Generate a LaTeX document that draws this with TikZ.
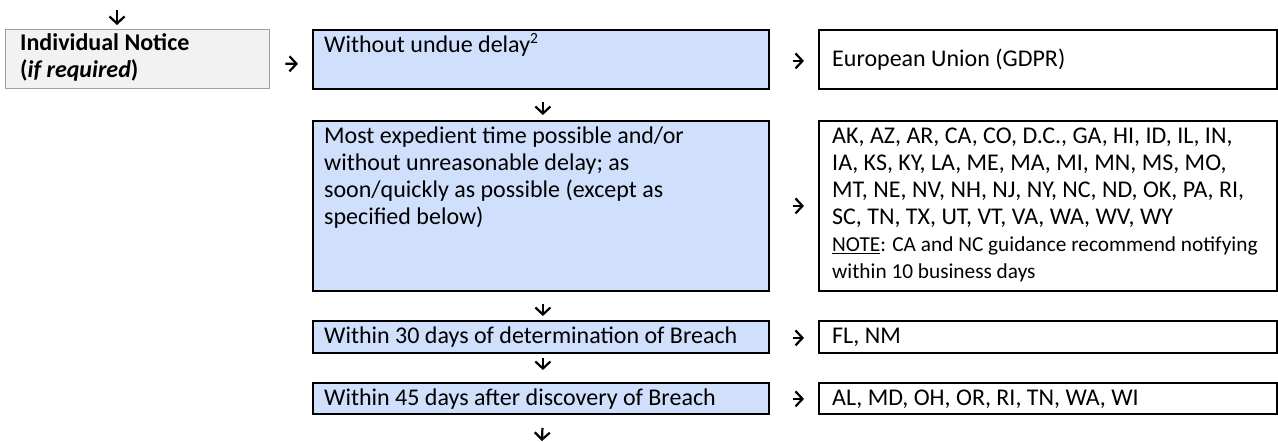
\documentclass[tikz,border=0pt]{standalone}
\usepackage{fontspec}
\setmainfont{Carlito}
\usetikzlibrary{arrows.meta}
\definecolor{boxblue}{RGB}{207,223,252}
\definecolor{boxgray}{RGB}{242,242,242}
\definecolor{edgegray}{RGB}{160,160,160}
\newcommand{\supnum}[1]{\raisebox{8.5pt}{\fontsize{15.5}{15.5}\selectfont #1}}
\tikzset{
  frame/.style={draw=black, line width=1.8pt, anchor=north west, inner sep=0pt},
  bluebox/.style={frame, fill=boxblue},
  whitebox/.style={frame, fill=white},
  graybox/.style={draw=edgegray, line width=1.4pt, fill=boxgray, anchor=north west, inner sep=0pt},
  txt/.style={inner sep=0pt, font=\fontsize{24}{27}\selectfont, align=left, anchor=base west},
  smalltxt/.style={txt, font=\fontsize{21.3}{27}\selectfont},
  arr/.style={line width=2.2pt, -{Straight Barb[length=7pt,width=15pt]}},
}
\begin{document}
\begin{tikzpicture}[x=1pt,y=-1pt]
\useasboundingbox (0,0) rectangle (1278,442);
% boxes
\node[graybox, minimum width=264pt, minimum height=59pt] (ind) at (5,29) {};
\node[bluebox, minimum width=456pt, minimum height=59pt] (b1) at (312,29) {};
\node[whitebox, minimum width=458pt, minimum height=59pt] (eu) at (818,29) {};
\node[bluebox, minimum width=456pt, minimum height=170pt] (b2) at (312,120) {};
\node[whitebox, minimum width=458pt, minimum height=170pt] (st) at (818,120) {};
\node[bluebox, minimum width=456pt, minimum height=32pt] (b3) at (312,320) {};
\node[whitebox, minimum width=458pt, minimum height=32pt] (fl) at (818,320) {};
\node[bluebox, minimum width=456pt, minimum height=31pt] (b4) at (312,382) {};
\node[whitebox, minimum width=458pt, minimum height=31pt] (al) at (818,382) {};
% texts (anchor = baseline of last line)
\node[txt] (tind) at (20,77) {\textbf{Individual Notice}\\\textbf{(\textit{if required})}};
\node[txt] (tb1) at (324,52) {Without undue delay\supnum{2}};
\node[txt] (teu) at (832,66) {European Union (GDPR)};
\node[txt] (tb2) at (324,224.5) {Most expedient time possible and/or\\without unreasonable delay; as\\soon/quickly as possible (except as\\specified below)};
\node[txt] (tst) at (832,224.5) {AK, AZ, AR, CA, CO, D.C., GA, HI, ID, IL, IN,\\IA, KS, KY, LA, ME, MA, MI, MN, MS, MO,\\MT, NE, NV, NH, NJ, NY, NC, ND, OK, PA, RI,\\SC, TN, TX, UT, VT, VA, WA, WV, WY};
\node[smalltxt] (tnote) at (832,278.5) {\underline{NOTE}: CA and NC guidance recommend notifying\\within 10 business days};
\node[txt] (tb3) at (324,343.5) {Within 30 days of determination of Breach};
\node[txt] (tfl) at (832,343.5) {FL, NM};
\node[txt] (tb4) at (324,405) {Within 45 days after discovery of Breach};
\node[txt] (tal) at (832,405) {AL, MD, OH, OR, RI, TN, WA, WI};
% free ends
\coordinate (topc) at (117,10);
\coordinate (botc) at (542,441);
% connectors
\draw[arr, shorten >=4pt] (topc) -- (topc |- ind.north);
\draw[arr, shorten <=15pt, shorten >=14pt] ([yshift=-4.5pt]ind.east) -- ([yshift=-4.5pt]b1.west);
\draw[arr, shorten <=23pt, shorten >=14pt] ([yshift=-1.5pt]b1.east) -- ([yshift=-1.5pt]eu.west);
\draw[arr, shorten <=23pt, shorten >=14pt] (b2.east) -- (st.west);
\draw[arr, shorten <=23pt, shorten >=14pt] ([yshift=-1pt]b3.east) -- ([yshift=-1pt]fl.west);
\draw[arr, shorten <=23pt, shorten >=14pt] ([yshift=-0.5pt]b4.east) -- ([yshift=-0.5pt]al.west);
\draw[arr, shorten <=12pt, shorten >=5pt] ([xshift=2pt]b1.south) -- ([xshift=2pt]b2.north);
\draw[arr, shorten <=12pt, shorten >=4pt] ([xshift=2pt]b2.south) -- ([xshift=2pt]b3.north);
\draw[arr, shorten <=4pt, shorten >=12pt] ([xshift=2pt]b3.south) -- ([xshift=2pt]b4.north);
\draw[arr, shorten <=13pt] ([xshift=2pt]b4.south) -- (botc);
\end{tikzpicture}
\end{document}
